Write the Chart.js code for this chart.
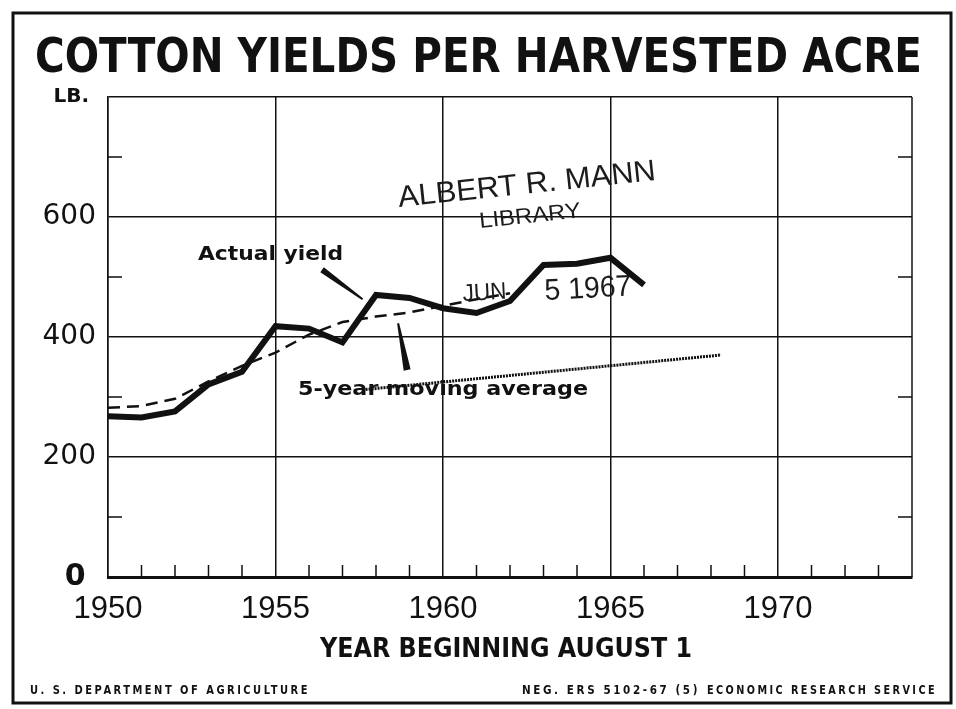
<!DOCTYPE html>
<html lang="en">
<head>
  <meta charset="UTF-8">
  <title>Cotton Yields per Harvested Acre</title>
  <style>
    body { margin: 0; background: #fff; }
    canvas { display: block; }
  </style>
</head>
<body>
  <canvas id="cottonChart" width="956" height="709"></canvas>

  <script src="https://cdn.jsdelivr.net/npm/chart.js"></script>
  <script>
    // values, lb. per harvested acre
    const years = [1950, 1951, 1952, 1953, 1954, 1955, 1956, 1957, 1958,
                   1959, 1960, 1961, 1962, 1963, 1964, 1965, 1966];
    const actualYield = [268, 266, 276, 321, 342, 418, 414, 391, 470,
                         465, 448, 440, 460, 520, 522, 532, 487];

    // 5-year moving average (dashed)
    const avgYears = [1950, 1951, 1952, 1953, 1954, 1955, 1956, 1957, 1958,
                      1959, 1960, 1961, 1962];
    const avgValues = [282, 285, 297, 326, 352, 374, 404, 425, 434,
                       441, 452, 463, 473];

    // dotted line running under the label
    const dotYears = [1957.6, 1968.3];
    const dotValues = [312, 370];

    const yTickLabels = { 0: '0 ', 200: '200', 400: '400', 600: '600', 800: 'LB. ' };
    const xLabelYears = [1950, 1955, 1960, 1965, 1970];

    const INK = '#111';

    function toPoints(xs, ys) {
      return xs.map((x, i) => ({ x: x, y: ys[i] }));
    }

    // draw text squeezed/stretched to a given width
    function fitText(c, text, left, baseline, width, font, angle, spacing) {
      c.save();
      c.font = font;
      c.letterSpacing = spacing || '0px';
      c.textAlign = 'left';
      c.textBaseline = 'alphabetic';
      const w = c.measureText(text).width;
      c.translate(left, baseline);
      if (angle) c.rotate(angle * Math.PI / 180);
      c.scale(width / w, 1);
      c.fillText(text, 0, 0);
      c.restore();
    }

    function wedge(c, x1, y1, x2, y2, w1, w2) {
      const dx = x2 - x1, dy = y2 - y1;
      const len = Math.hypot(dx, dy);
      const nx = -dy / len, ny = dx / len;
      c.beginPath();
      c.moveTo(x1 + nx * w1 / 2, y1 + ny * w1 / 2);
      c.lineTo(x2 + nx * w2 / 2, y2 + ny * w2 / 2);
      c.lineTo(x2 - nx * w2 / 2, y2 - ny * w2 / 2);
      c.lineTo(x1 - nx * w1 / 2, y1 - ny * w1 / 2);
      c.closePath();
      c.fill();
    }

    const paperPlugin = {
      id: 'paper',
      beforeDraw(chart) {
        const c = chart.ctx;
        c.save();
        c.fillStyle = '#fff';
        c.fillRect(0, 0, chart.width, chart.height);
        c.strokeStyle = INK;
        c.lineWidth = 3;
        c.strokeRect(13, 13, 938, 690);
        c.restore();
      },
      afterDraw(chart) {
        const c = chart.ctx;
        const area = chart.chartArea;
        const xs = chart.scales.x, ys = chart.scales.y;
        c.save();
        c.strokeStyle = INK;
        c.fillStyle = INK;

        // right frame of the plot
        c.lineWidth = 1.5;
        c.beginPath();
        c.moveTo(area.right, area.top);
        c.lineTo(area.right, area.bottom);
        c.stroke();

        // minor ticks, pointing inward
        c.beginPath();
        for (let v = 100; v < 800; v += 200) {
          const py = ys.getPixelForValue(v);
          c.moveTo(area.left, py); c.lineTo(area.left + 14, py);
          c.moveTo(area.right, py); c.lineTo(area.right - 14, py);
        }
        for (let yr = 1951; yr < 1974; yr++) {
          if (yr % 5 === 0) continue;
          const px = xs.getPixelForValue(yr);
          c.moveTo(px, area.bottom); c.lineTo(px, area.bottom - 12);
        }
        c.stroke();

        // titles
        fitText(c, 'COTTON YIELDS PER HARVESTED ACRE', 35, 72, 887, 'bold 48px "DejaVu Sans"');
        fitText(c, 'YEAR BEGINNING AUGUST 1', 320, 657, 372, 'bold 26px "DejaVu Sans"');
        fitText(c, 'U. S. DEPARTMENT OF AGRICULTURE', 30, 694, 280, '600 12px "DejaVu Sans"', 0, '3px');
        fitText(c, 'NEG. ERS 5102-67 (5)', 522, 694, 178, '600 12px "DejaVu Sans"', 0, '3px');
        fitText(c, 'ECONOMIC RESEARCH SERVICE', 707, 694, 230, '600 12px "DejaVu Sans"', 0, '3px');

        // series labels and their pointers
        fitText(c, 'Actual yield', 198, 260, 145, 'bold 20px "DejaVu Sans"');
        fitText(c, '5-year moving average', 298, 395, 290, 'bold 20px "DejaVu Sans"');
        wedge(c, xs.getPixelForValue(1956.39), ys.getPixelForValue(512),
                 xs.getPixelForValue(1957.6), ys.getPixelForValue(463), 6, 2);
        wedge(c, xs.getPixelForValue(1958.66), ys.getPixelForValue(423),
                 xs.getPixelForValue(1958.93), ys.getPixelForValue(345), 2, 7);

        // library stamp
        c.fillStyle = '#1c1c1c';
        fitText(c, 'ALBERT R. MANN', 399, 207, 259, '30px "Liberation Sans"', -6);
        fitText(c, 'LIBRARY', 480, 228, 102, '22px "Liberation Sans"', -6);
        fitText(c, 'JUN', 463, 301, 44, '24px "Liberation Sans"', -3);
        fitText(c, '5 1967', 545, 300, 87, '30px "Liberation Sans"', -3);
        c.restore();
      }
    };

    new Chart(document.getElementById('cottonChart'), {
      type: 'line',
      data: {
        datasets: [
          {
            label: 'Actual yield',
            data: toPoints(years, actualYield),
            borderColor: INK,
            borderWidth: 6,
            pointRadius: 0,
            borderJoinStyle: 'miter',
            tension: 0
          },
          {
            label: '5-year moving average',
            data: toPoints(avgYears, avgValues),
            borderColor: INK,
            borderWidth: 2.5,
            borderDash: [12, 7],
            pointRadius: 0,
            tension: 0
          },
          {
            label: 'dotted',
            data: toPoints(dotYears, dotValues),
            borderColor: INK,
            borderWidth: 3,
            borderDash: [2, 1],
            pointRadius: 0,
            tension: 0
          }
        ]
      },
      options: {
        responsive: false,
        animation: false,
        layout: { padding: { left: 0, top: 97, right: 44, bottom: 0 } },
        plugins: {
          legend: { display: false },
          tooltip: { enabled: false },
          title: { display: false }
        },
        scales: {
          x: {
            type: 'linear',
            min: 1950,
            max: 1974,
            afterFit: s => { s.height = 132; },
            border: { color: INK, width: 3 },
            grid: {
              drawTicks: false,
              lineWidth: 1.5,
              color: ctx => (ctx.tick && ctx.tick.value % 5 === 0) ? INK : 'rgba(0,0,0,0)'
            },
            ticks: {
              stepSize: 1,
              autoSkip: false,
              maxRotation: 0,
              padding: 14,
              color: INK,
              font: { family: '"Liberation Sans"', size: 31 },
              callback: v => xLabelYears.includes(v) ? String(v) : ''
            }
          },
          y: {
            min: 0,
            max: 800,
            afterFit: s => { s.width = 108; },
            border: { color: INK, width: 1.5 },
            grid: {
              drawTicks: false,
              lineWidth: 1.5,
              color: ctx => (ctx.tick && ctx.tick.value % 200 === 0) ? INK : 'rgba(0,0,0,0)'
            },
            ticks: {
              stepSize: 100,
              autoSkip: false,
              padding: 12,
              color: INK,
              font: ctx => {
                const v = ctx.tick ? ctx.tick.value : 1;
                if (v === 0) return { family: '"DejaVu Sans"', size: 30, weight: 'bold' };
                if (v === 800) return { family: '"DejaVu Sans"', size: 20, weight: 'bold' };
                return { family: '"DejaVu Sans"', size: 28 };
              },
              callback: v => yTickLabels[v] || ''
            }
          }
        }
      },
      plugins: [paperPlugin]
    });
  </script>
</body>
</html>
